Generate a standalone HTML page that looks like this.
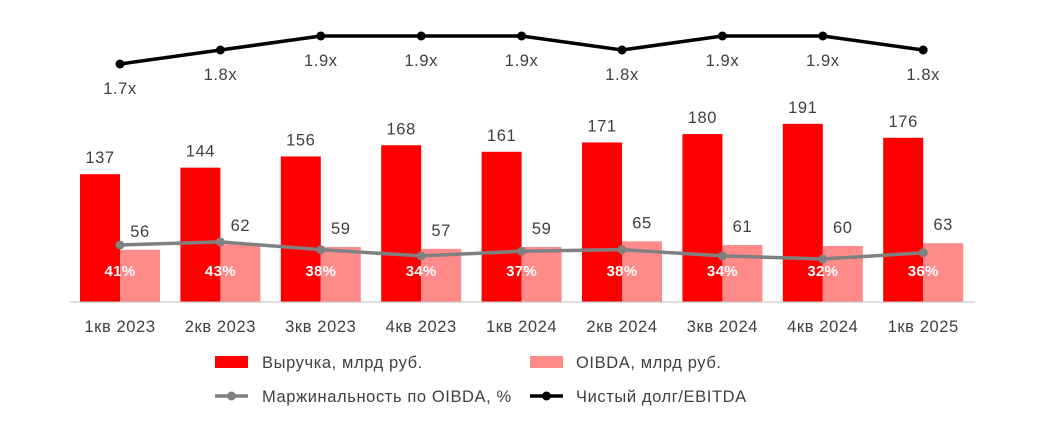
<!DOCTYPE html>
<html><head><meta charset="utf-8"><style>
body{margin:0;background:#fff;width:1044px;height:424px;overflow:hidden;font-family:"Liberation Sans",sans-serif}
</style></head><body>
<svg id="chart" width="1044" height="424" xmlns="http://www.w3.org/2000/svg" font-family="Liberation Sans, sans-serif"></svg>
<script>
const categories=["1кв 2023","2кв 2023","3кв 2023","4кв 2023","1кв 2024","2кв 2024","3кв 2024","4кв 2024","1кв 2025"];
const revenue=[137,144,156,168,161,171,180,191,176];
const oibda=[56,62,59,57,59,65,61,60,63];
const margin=[41,43,38,34,37,38,34,32,36];
const debt=[1.7,1.8,1.9,1.9,1.9,1.8,1.9,1.9,1.8];
const marginLabels=["41%","43%","38%","34%","37%","38%","34%","32%","36%"];
const debtLabels=["1.7x","1.8x","1.9x","1.9x","1.9x","1.8x","1.9x","1.9x","1.8x"];

const svg=document.getElementById('chart');
const NS="http://www.w3.org/2000/svg";
const base=302;
function xC(i){return 120+i*100.4;}
function yBar(v){return base-v*0.933;}
function yMargin(v){return 245-(v-41)*1.56;}
function yDebt(v){return 64-(v-1.7)*140;}
function mk(tag,attrs,parent){const e=document.createElementNS(NS,tag);for(const k in attrs)e.setAttribute(k,attrs[k]);(parent||svg).appendChild(e);return e;}
function txt(s,x,y,attrs){const t=mk('text',Object.assign({x:x,y:y,'text-anchor':'middle','font-size':16.5,'letter-spacing':0.6,fill:'#404040'},attrs||{}));t.textContent=s;return t;}

categories.forEach((c,i)=>{
  const cx=xC(i);
  const r=mk('rect',{x:cx-40,y:yBar(revenue[i]),width:40,height:base-yBar(revenue[i]),fill:'#ff0000'});
  
  
  const o=mk('rect',{x:cx,y:yBar(oibda[i]),width:40,height:base-yBar(oibda[i]),fill:'#ff8a8a'});
  
  
  const t1=txt(String(revenue[i]),cx-20,yBar(revenue[i])-11);
  
  
  const t2=txt(String(oibda[i]),cx+20,yBar(oibda[i])-13);
  
  
  const t3=txt(categories[i],cx,332);
  
  
});
const ax=mk('line',{x1:70,y1:base,x2:975,y2:base,stroke:'#bfbfbf','stroke-width':1});



const mp=mk('polyline',{points:margin.map((v,i)=>xC(i)+','+yMargin(v)).join(' '),fill:'none',stroke:'#808080','stroke-width':3.5});


margin.forEach((v,i)=>{
  const c=mk('circle',{cx:xC(i),cy:yMargin(v),r:4.5,fill:'#808080'});
  
  
  const t=txt(marginLabels[i],xC(i),276,{fill:'#fff','font-weight':'bold','font-size':15,'letter-spacing':0.3});
  
  
});
const dp=mk('polyline',{points:debt.map((v,i)=>xC(i)+','+yDebt(v)).join(' '),fill:'none',stroke:'#000','stroke-width':3.5});


debt.forEach((v,i)=>{
  const c=mk('circle',{cx:xC(i),cy:yDebt(v),r:4.5,fill:'#000'});
  
  
  const t=txt(debtLabels[i],xC(i),yDebt(v)+30);
  
  
});
const lg=mk('g',{});


mk('rect',{x:215,y:356,width:33,height:12,fill:'#ff0000'},lg);
mk('rect',{x:530,y:356,width:33,height:12,fill:'#ff8a8a'},lg);
mk('line',{x1:215,y1:396,x2:248,y2:396,stroke:'#808080','stroke-width':3.5},lg);
mk('circle',{cx:231.5,cy:396,r:4.5,fill:'#808080'},lg);
mk('line',{x1:530,y1:396,x2:563,y2:396,stroke:'#000','stroke-width':3.5},lg);
mk('circle',{cx:546.5,cy:396,r:4.5,fill:'#000'},lg);
[["Выручка, млрд руб.",262,368],["OIBDA, млрд руб.",576,368],["Маржинальность по OIBDA, %",262,402],["Чистый долг/EBITDA",576,402]].forEach(a=>{
  const t=txt(a[0],a[1],a[2],{'text-anchor':'start'});
  
  
  lg.appendChild(t);
});
</script>
</body></html>
